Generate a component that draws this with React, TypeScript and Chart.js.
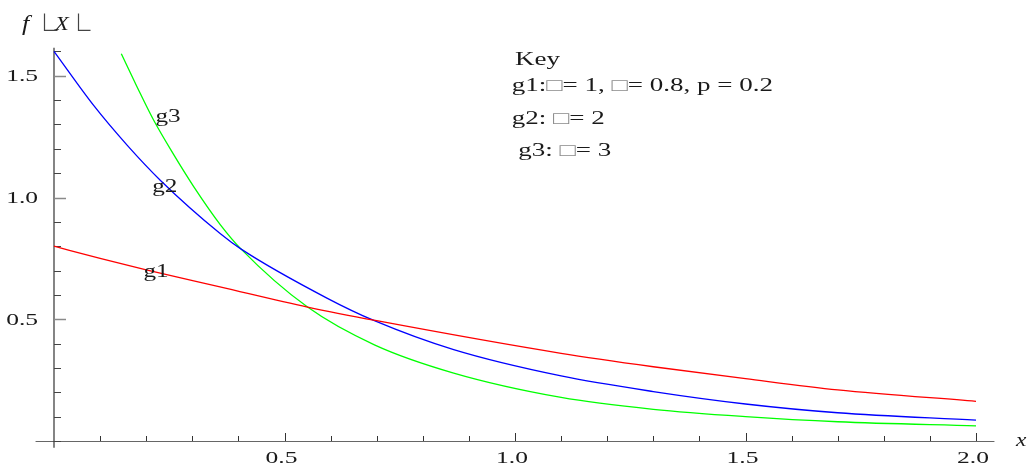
import React, { useEffect, useRef } from "react";
import { Chart, registerables } from "chart.js";

Chart.register(...registerables);

// ---- data ----
const g1X = [0, 0.1, 0.2, 0.36, 0.55, 0.7, 1.1, 1.3, 1.5, 1.7, 2.0];
const g1Y = [0.8, 0.75, 0.703, 0.633, 0.55, 0.494, 0.36, 0.305, 0.256, 0.21, 0.163];

const g2X = [0, 0.086, 0.159, 0.231, 0.361, 0.406, 0.592, 0.695, 0.867, 1.1, 1.3, 1.5, 1.7, 2.0];
const g2Y = [1.6, 1.378, 1.214, 1.07, 0.851, 0.788, 0.587, 0.494, 0.375, 0.267, 0.203, 0.152, 0.116, 0.086];

const g3X = [0.146, 0.18, 0.216, 0.26, 0.303, 0.361, 0.406, 0.55, 0.695, 0.867, 1.1, 1.3, 1.5, 1.7, 2.0];
const g3Y = [1.59, 1.455, 1.318, 1.175, 1.045, 0.888, 0.788, 0.55, 0.395, 0.279, 0.179, 0.13, 0.1, 0.079, 0.062];

const xMajorTicks = [0.5, 1.0, 1.5, 2.0];
const xTickLabels = ["0.5", "1.0", "1.5", "2.0"];
const xMinorTicks = [0.1, 0.2, 0.3, 0.4, 0.6, 0.7, 0.8, 0.9, 1.1, 1.2, 1.3, 1.4, 1.6, 1.7, 1.8, 1.9];
const yMajorTicks = [0.5, 1.0, 1.5];
const yTickLabels = ["0.5", "1.0", "1.5"];
const yMinorTicks = [0, 0.1, 0.2, 0.3, 0.4, 0.6, 0.7, 0.8, 0.9, 1.1, 1.2, 1.3, 1.4, 1.6];

const curveLabels = [
  { text: "g1", x: 0.194, y: 0.673 },
  { text: "g2", x: 0.213, y: 1.023 },
  { text: "g3", x: 0.22, y: 1.31 },
];

const keyTitle = { text: "Key", x: 1.0, y: 1.544 };
const keyLines = [
  { x: 0.993, y: 1.439, parts: ["g1:", "□", "= 1, ", "□", "= 0.8, p = 0.2"] },
  { x: 0.993, y: 1.3, parts: ["g2: ", "□", "= 2"] },
  { x: 1.007, y: 1.172, parts: ["g3: ", "□", "= 3"] },
];

const SERIF = '"Liberation Serif", "Times New Roman", serif';
const SX = 1.5;
const DARK = "#1a1a1a";
const GRAY = "#8a8a8a";

function drawText(
  ctx: CanvasRenderingContext2D,
  text: string,
  x: number,
  y: number,
  font: string,
  color: string,
  align: CanvasTextAlign,
  baseline: CanvasTextBaseline,
  sx: number
) {
  ctx.save();
  ctx.translate(x, y);
  ctx.scale(sx, 1);
  ctx.font = font;
  ctx.fillStyle = color;
  ctx.textAlign = align;
  ctx.textBaseline = baseline;
  ctx.fillText(text, 0, 0);
  ctx.restore();
}

function drawParts(ctx: CanvasRenderingContext2D, parts: string[], x: number, y: number, font: string, sx: number) {
  ctx.save();
  let cx = x;
  parts.forEach((p) => {
    const isBox = p === "□";
    drawText(ctx, p, cx, y, font, isBox ? GRAY : DARK, "left", "alphabetic", sx);
    ctx.font = font;
    cx += ctx.measureText(p).width * sx;
  });
  ctx.restore();
}

function floorMark(ctx: CanvasRenderingContext2D, x: number, baseY: number, h: number, w: number) {
  ctx.save();
  ctx.strokeStyle = "#444";
  ctx.lineWidth = 1.2;
  ctx.beginPath();
  ctx.moveTo(x, baseY - h);
  ctx.lineTo(x, baseY);
  ctx.lineTo(x + w, baseY);
  ctx.stroke();
  ctx.restore();
}

const axesPlugin = {
  id: "mathAxes",
  beforeDatasetsDraw(chart: any) {
    const ctx: CanvasRenderingContext2D = chart.ctx;
    const xs = chart.scales.x;
    const ys = chart.scales.y;
    const x0 = xs.getPixelForValue(0);
    const y0 = ys.getPixelForValue(0);
    ctx.save();
    ctx.strokeStyle = "#666";
    ctx.lineWidth = 1;
    ctx.beginPath();
    ctx.moveTo(xs.getPixelForValue(-0.04), y0 + 0.5);
    ctx.lineTo(xs.getPixelForValue(2.04), y0 + 0.5);
    ctx.stroke();
    ctx.strokeStyle = "#333";
    ctx.lineWidth = 1.2;
    ctx.beginPath();
    ctx.moveTo(x0, ys.getPixelForValue(-0.028));
    ctx.lineTo(x0, ys.getPixelForValue(1.615));
    ctx.stroke();
    ctx.lineWidth = 1;
    ctx.strokeStyle = "#333";
    xMinorTicks.forEach((v) => {
      const px = Math.round(xs.getPixelForValue(v)) + 0.5;
      ctx.beginPath();
      ctx.moveTo(px, y0);
      ctx.lineTo(px, y0 - 5);
      ctx.stroke();
    });
    xMajorTicks.forEach((v) => {
      const px = Math.round(xs.getPixelForValue(v)) + 0.5;
      ctx.beginPath();
      ctx.moveTo(px, y0);
      ctx.lineTo(px, y0 - 8);
      ctx.stroke();
    });
    ctx.strokeStyle = "#444";
    yMinorTicks.forEach((v) => {
      const py = Math.round(ys.getPixelForValue(v)) + 0.5;
      ctx.beginPath();
      ctx.moveTo(x0, py);
      ctx.lineTo(x0 + 7, py);
      ctx.stroke();
    });
    ctx.strokeStyle = "#8a8a8a";
    ctx.lineWidth = 1.5;
    yMajorTicks.forEach((v) => {
      const py = Math.round(ys.getPixelForValue(v)) + 0.5;
      ctx.beginPath();
      ctx.moveTo(x0, py);
      ctx.lineTo(x0 + 12, py);
      ctx.stroke();
    });
    ctx.restore();
  },
  afterDatasetsDraw(chart: any) {
    const ctx: CanvasRenderingContext2D = chart.ctx;
    const xs = chart.scales.x;
    const ys = chart.scales.y;
    const x0 = xs.getPixelForValue(0);
    const y0 = ys.getPixelForValue(0);
    const tickFont = `17px ${SERIF}`;
    yMajorTicks.forEach((v, i) => {
      drawText(ctx, yTickLabels[i], x0 - 16, ys.getPixelForValue(v) + 1, tickFont, DARK, "right", "middle", SX);
    });
    xMajorTicks.forEach((v, i) => {
      drawText(ctx, xTickLabels[i], xs.getPixelForValue(v) - 3, y0 + 22, tickFont, DARK, "center", "alphabetic", SX);
    });
    drawText(ctx, "x", xs.getPixelForValue(2.0) + 40, y0 + 5, `italic 18px ${SERIF}`, DARK, "left", "alphabetic", 1.3);
    // f⌊X⌊ label
    const top = chart.chartArea.top;
    const fy = top - 21;
    drawText(ctx, "f", x0 - 32, fy, `italic 20px ${SERIF}`, DARK, "left", "alphabetic", 1.3);
    floorMark(ctx, x0 - 9.5, fy, 17, 13);
    drawText(ctx, "X", x0 + 1, fy, `italic 18px ${SERIF}`, DARK, "left", "alphabetic", 1.25);
    floorMark(ctx, x0 + 24.5, fy, 17, 12);
    curveLabels.forEach((l) => {
      drawText(ctx, l.text, xs.getPixelForValue(l.x), ys.getPixelForValue(l.y), `18px ${SERIF}`, DARK, "left", "alphabetic", 1.4);
    });
    drawText(ctx, keyTitle.text, xs.getPixelForValue(keyTitle.x), ys.getPixelForValue(keyTitle.y), `18px ${SERIF}`, DARK, "left", "alphabetic", SX);
    keyLines.forEach((k) => {
      drawParts(ctx, k.parts, xs.getPixelForValue(k.x), ys.getPixelForValue(k.y), `18px ${SERIF}`, SX);
    });
  },
};

function pts(xs: number[], ys: number[]) {
  return xs.map((x, i) => ({ x, y: ys[i] }));
}

export default function App() {
  const ref = useRef<HTMLCanvasElement | null>(null);
  useEffect(() => {
    document.body.style.margin = "0";
    if (!ref.current) return;
    const common = {
      pointRadius: 0,
      borderWidth: 1.3,
      fill: false,
      cubicInterpolationMode: "monotone" as const,
      clip: false as any,
    };
    const chart = new Chart(ref.current, {
      type: "line",
      data: {
        datasets: [
          { ...common, label: "g1", data: pts(g1X, g1Y), borderColor: "#ff0000" },
          { ...common, label: "g2", data: pts(g2X, g2Y), borderColor: "#0000ff" },
          { ...common, label: "g3", data: pts(g3X, g3Y), borderColor: "#00ff00" },
        ],
      },
      options: {
        animation: false,
        responsive: false,
        events: [],
        layout: { padding: { left: 54, right: 60, top: 51.4, bottom: 25 } },
        scales: {
          x: { type: "linear", min: 0, max: 2, display: false },
          y: { type: "linear", min: 0, max: 1.6, display: false },
        },
        plugins: { legend: { display: false }, tooltip: { enabled: false } },
      },
      plugins: [axesPlugin],
    });
    return () => chart.destroy();
  }, []);
  return (
    <div style={{ position: "absolute", left: 0, top: 0, width: 1036, height: 466, background: "#fff" }}>
      <canvas ref={ref} width={1036} height={466} />
    </div>
  );
}
